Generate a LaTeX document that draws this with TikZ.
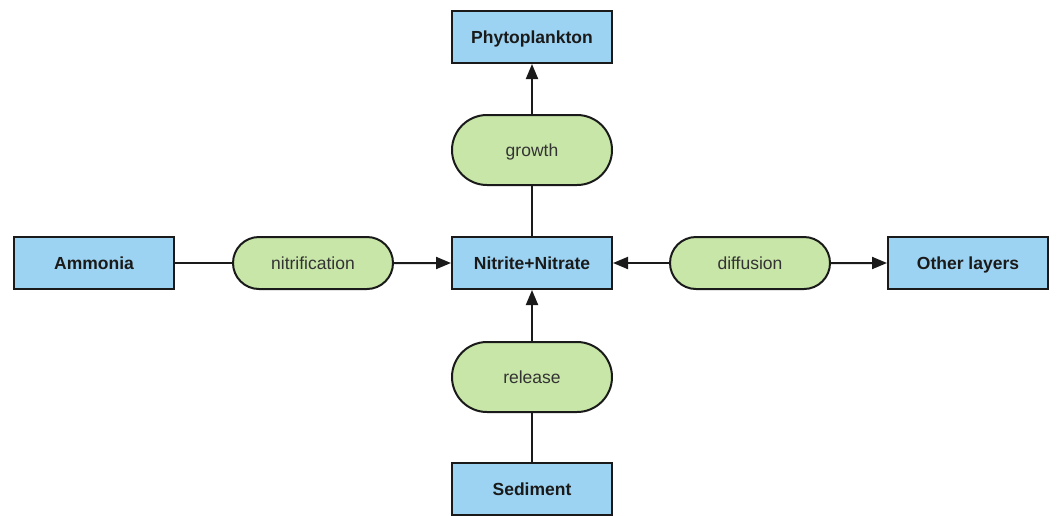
\documentclass[tikz,border=0pt]{standalone}
\usepackage{fontspec}
\setmainfont{Liberation Sans}
\usetikzlibrary{shapes.misc,arrows.meta}
\definecolor{poolblue}{HTML}{9DD3F2}
\definecolor{procgreen}{HTML}{C8E6A8}
\definecolor{inkline}{HTML}{1A1A1A}
\definecolor{proctext}{HTML}{333333}
\begin{document}
\begin{tikzpicture}[x=1pt,y=-1pt,
  pool/.style={draw=inkline, line width=2pt, fill=poolblue, minimum width=160pt,
    minimum height=52pt, inner sep=0pt, text height=12.5pt, text depth=0pt,
    font=\fontsize{17.5}{20}\selectfont\bfseries, text=inkline},
  proc/.style={rounded rectangle, draw=inkline, line width=2pt, fill=procgreen,
    minimum width=160pt, minimum height=52pt, inner sep=0pt,
    text height=12.5pt, text depth=0pt,
    font=\fontsize{17.5}{20}\selectfont, text=proctext},
  tallproc/.style={proc, minimum height=70pt},
  link/.style={draw=inkline, line width=2pt},
  flow/.style={link, -{Triangle[length=15pt,width=12pt]}}]
\useasboundingbox (0,0) rectangle (1058,515);

% pools
\node[pool] (phyto) at (532,37) {Phytoplankton};
\node[pool] (amm) at (94,263) {Ammonia};
\node[pool] (no3) at (532,263) {Nitrite+Nitrate};
\node[pool] (other) at (968,263) {Other layers};
\node[pool] (sed) at (532,489) {Sediment};

% processes
\node[tallproc] (growth) at (532,150) {growth};
\node[proc] (nitr) at (313,263) {nitrification};
\node[proc] (diff) at (750,263) {diffusion};
\node[tallproc] (rel) at (532,377) {release};

% fluxes
\draw[link] (amm) -- (nitr);
\draw[flow] (nitr) -- (no3);
\draw[flow] (diff) -- (no3);
\draw[flow] (diff) -- (other);
\draw[link] (no3) -- (growth);
\draw[flow] (growth) -- (phyto);
\draw[link] (sed) -- (rel);
\draw[flow] (rel) -- (no3);
\end{tikzpicture}
\end{document}
